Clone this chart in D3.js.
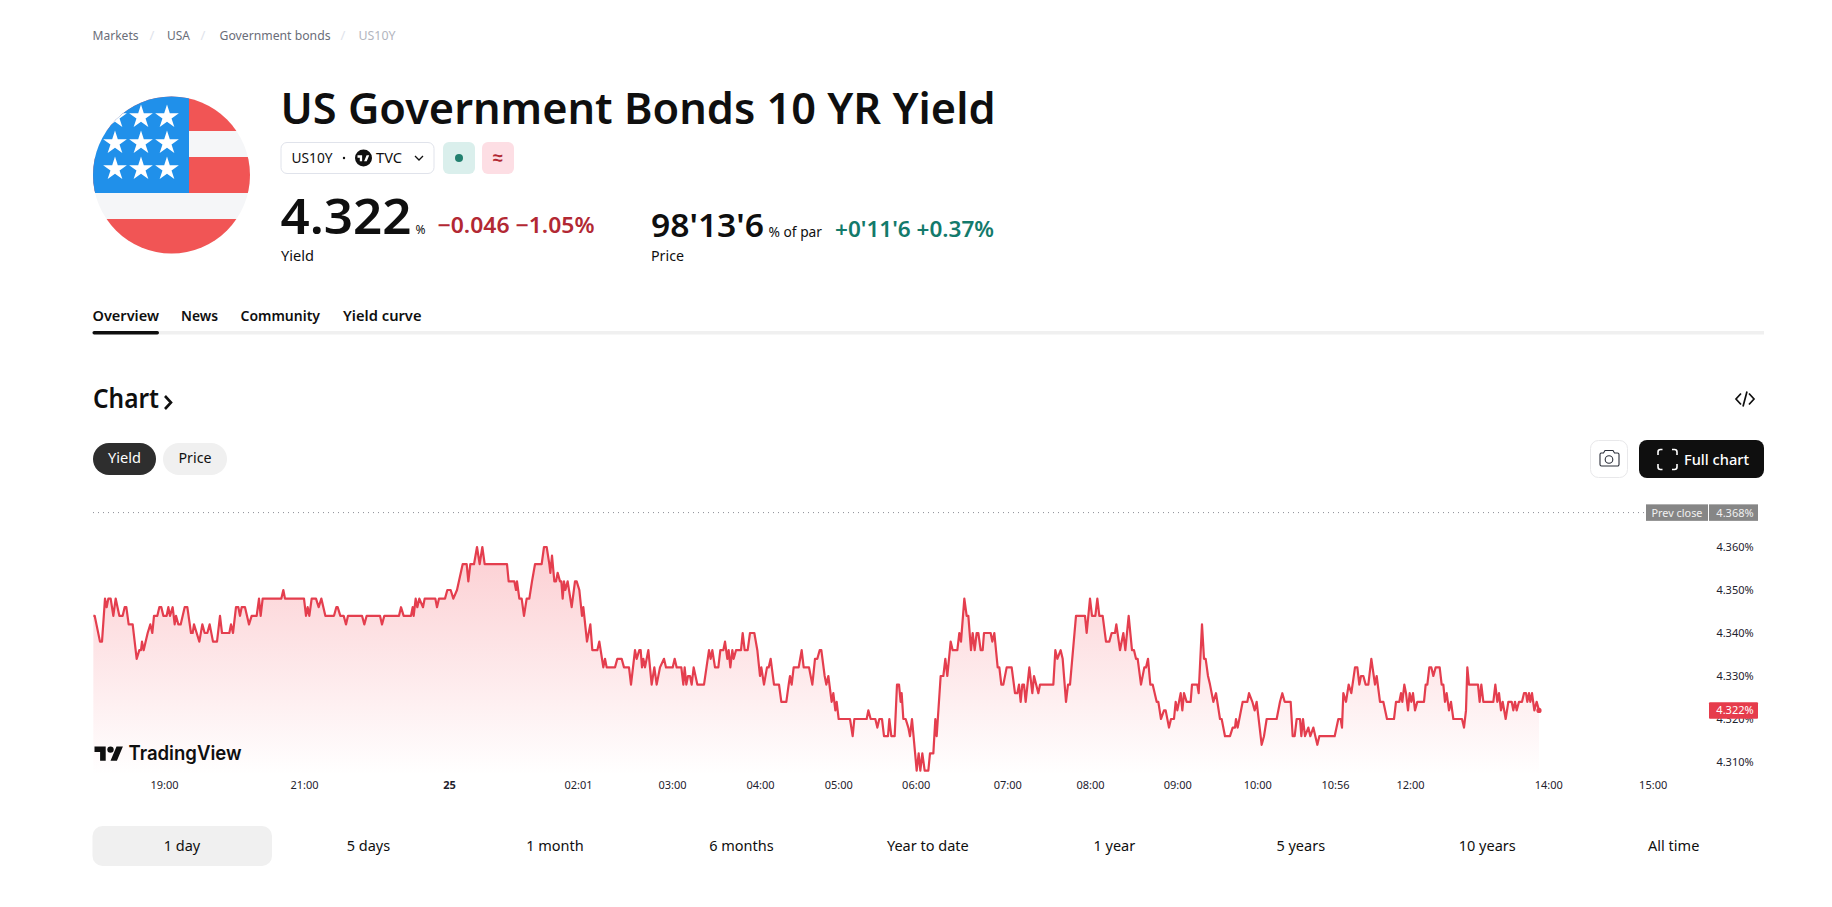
<!DOCTYPE html>
<html lang="en">
<head>
  <meta charset="UTF-8">
  <title>US Government Bonds 10 YR Yield</title>
  <script src="https://d3js.org/d3.v7.min.js"></script>
  <style>
    html, body { margin: 0; background: #fff; overflow: hidden; }
    svg { display: block; }
    text { font-family: "Noto Sans", sans-serif; }
  </style>
</head>
<body>
  <svg id="page" width="1832" height="907"></svg>

  <script>
    // Chart data: [bar on the axis, yield in %]
    const yieldSeries = [
      [40,4.344],[44,4.344],[60,4.338],[66,4.338],[75,4.348],[80,4.346],[85,4.348],[92,4.348],[100,4.344],[107,4.348],
      [118,4.344],[128,4.344],[134,4.346],[139,4.346],[146,4.342],[158,4.342],[170,4.334],[178,4.336],[183,4.336],[186,4.338],
      [191,4.336],[197,4.338],[203,4.340],[211,4.342],[217,4.340],[222,4.344],[232,4.344],[238,4.346],[244,4.346],[250,4.344],
      [260,4.344],[265,4.346],[270,4.344],[278,4.346],[284,4.342],[288,4.344],[295,4.342],[302,4.342],[314,4.346],[322,4.346],
      [333,4.340],[338,4.340],[342,4.342],[350,4.340],[358,4.338],[367,4.342],[374,4.340],[382,4.340],[389,4.342],[399,4.338],
      [411,4.338],[420,4.344],[426,4.340],[448,4.340],[453,4.342],[459,4.340],[468,4.346],[475,4.346],[480,4.344],[485,4.346],
      [495,4.346],[507,4.342],[515,4.344],[530,4.344],[537,4.348],[542,4.344],[548,4.348],[604,4.348],[610,4.350],[615,4.348],
      [672,4.348],[678,4.344],[683,4.346],[688,4.344],[695,4.348],[708,4.348],[716,4.346],[724,4.348],[736,4.344],[762,4.344],
      [769,4.346],[773,4.346],[781,4.344],[791,4.344],[798,4.342],[804,4.344],[846,4.344],[853,4.342],[860,4.344],[900,4.344],
      [906,4.342],[913,4.344],[957,4.344],[963,4.346],[971,4.344],[993,4.344],[998,4.346],[1001,4.344],[1007,4.348],[1012,4.346],
      [1018,4.348],[1029,4.346],[1034,4.348],[1066,4.348],[1071,4.346],[1077,4.348],[1095,4.348],[1102,4.350],[1112,4.350],[1120,4.348],
      [1131,4.350],[1148,4.356],[1160,4.356],[1165,4.352],[1171,4.356],[1182,4.356],[1191,4.360],[1199,4.356],[1207,4.360],[1214,4.356],
      [1281,4.356],[1286,4.352],[1303,4.352],[1308,4.350],[1311,4.352],[1318,4.348],[1325,4.348],[1332,4.344],[1340,4.348],[1348,4.348],
      [1356,4.352],[1365,4.356],[1385,4.356],[1392,4.360],[1400,4.360],[1408,4.356],[1411,4.354],[1416,4.358],[1423,4.352],[1428,4.352],
      [1433,4.354],[1440,4.352],[1444,4.352],[1448,4.348],[1452,4.352],[1456,4.350],[1463,4.352],[1475,4.346],[1485,4.352],[1490,4.352],
      [1498,4.350],[1506,4.344],[1510,4.346],[1521,4.338],[1531,4.342],[1537,4.336],[1552,4.336],[1558,4.338],[1570,4.332],[1575,4.334],
      [1580,4.332],[1605,4.332],[1612,4.334],[1625,4.334],[1632,4.332],[1647,4.332],[1653,4.328],[1665,4.336],[1670,4.334],[1678,4.336],
      [1682,4.336],[1686,4.332],[1690,4.334],[1695,4.332],[1705,4.336],[1715,4.328],[1723,4.332],[1730,4.328],[1740,4.332],[1752,4.334],
      [1758,4.332],[1778,4.332],[1784,4.334],[1790,4.332],[1804,4.332],[1810,4.328],[1814,4.332],[1819,4.328],[1824,4.330],[1830,4.330],
      [1835,4.328],[1841,4.332],[1852,4.328],[1872,4.328],[1887,4.336],[1892,4.334],[1897,4.336],[1905,4.332],[1915,4.332],[1921,4.336],
      [1930,4.336],[1935,4.338],[1942,4.334],[1946,4.336],[1951,4.332],[1957,4.336],[1961,4.334],[1968,4.336],[1983,4.336],[1988,4.340],
      [1994,4.336],[2003,4.336],[2010,4.340],[2023,4.340],[2032,4.336],[2040,4.330],[2044,4.332],[2052,4.328],[2061,4.332],[2066,4.332],
      [2072,4.334],[2082,4.328],[2097,4.328],[2104,4.324],[2119,4.324],[2126,4.328],[2130,4.330],[2135,4.328],[2141,4.332],[2156,4.332],
      [2165,4.336],[2171,4.332],[2187,4.332],[2197,4.328],[2205,4.334],[2212,4.334],[2219,4.336],[2224,4.336],[2234,4.330],[2239,4.328],
      [2245,4.330],[2255,4.324],[2260,4.326],[2266,4.322],[2270,4.324],[2276,4.320],[2310,4.320],[2318,4.316],[2323,4.320],[2360,4.320],
      [2365,4.322],[2372,4.320],[2386,4.320],[2392,4.318],[2398,4.320],[2406,4.320],[2412,4.316],[2424,4.316],[2428,4.320],[2434,4.316],
      [2444,4.316],[2451,4.328],[2457,4.328],[2462,4.324],[2465,4.326],[2470,4.320],[2477,4.320],[2485,4.318],[2490,4.316],[2496,4.320],
      [2510,4.308],[2516,4.312],[2521,4.308],[2527,4.312],[2534,4.308],[2545,4.308],[2550,4.312],[2560,4.312],[2566,4.320],[2570,4.316],
      [2582,4.330],[2590,4.330],[2596,4.334],[2602,4.330],[2612,4.338],[2618,4.336],[2632,4.336],[2638,4.340],[2643,4.338],[2653,4.348],
      [2660,4.344],[2665,4.344],[2673,4.336],[2678,4.340],[2684,4.336],[2690,4.340],[2695,4.340],[2702,4.336],[2708,4.336],[2712,4.340],
      [2732,4.340],[2737,4.338],[2743,4.340],[2753,4.332],[2758,4.332],[2764,4.328],[2770,4.328],[2780,4.332],[2795,4.332],[2805,4.326],
      [2812,4.326],[2817,4.328],[2822,4.324],[2827,4.328],[2832,4.328],[2837,4.324],[2848,4.332],[2857,4.326],[2862,4.330],[2875,4.326],
      [2880,4.328],[2920,4.328],[2926,4.336],[2932,4.334],[2942,4.336],[2948,4.334],[2958,4.324],[2964,4.328],[2970,4.328],[2988,4.344],
      [3015,4.344],[3020,4.340],[3030,4.348],[3036,4.344],[3046,4.344],[3052,4.348],[3058,4.344],[3068,4.344],[3078,4.338],[3088,4.338],
      [3095,4.340],[3105,4.340],[3109,4.342],[3120,4.336],[3130,4.340],[3136,4.336],[3146,4.344],[3156,4.336],[3162,4.336],[3168,4.334],
      [3173,4.334],[3183,4.328],[3193,4.332],[3198,4.332],[3204,4.334],[3211,4.328],[3218,4.328],[3230,4.324],[3235,4.324],[3243,4.320],
      [3252,4.322],[3257,4.322],[3267,4.318],[3273,4.320],[3282,4.320],[3287,4.324],[3292,4.322],[3302,4.326],[3307,4.322],[3312,4.326],
      [3320,4.324],[3332,4.324],[3336,4.328],[3352,4.328],[3356,4.326],[3366,4.342],[3372,4.334],[3377,4.334],[3384,4.330],[3390,4.328],
      [3400,4.324],[3408,4.326],[3420,4.320],[3425,4.320],[3435,4.316],[3450,4.316],[3458,4.318],[3465,4.318],[3468,4.320],[3473,4.318],
      [3488,4.324],[3502,4.324],[3507,4.326],[3517,4.324],[3524,4.322],[3530,4.324],[3545,4.314],[3552,4.316],[3560,4.320],[3590,4.320],
      [3600,4.324],[3607,4.326],[3614,4.324],[3632,4.324],[3638,4.316],[3644,4.316],[3650,4.320],[3660,4.320],[3664,4.316],[3669,4.320],
      [3675,4.316],[3685,4.318],[3691,4.316],[3700,4.318],[3706,4.316],[3712,4.314],[3718,4.316],[3764,4.316],[3775,4.320],[3782,4.320],
      [3786,4.318],[3790,4.326],[3798,4.324],[3806,4.328],[3814,4.326],[3825,4.332],[3832,4.332],[3838,4.328],[3843,4.330],[3850,4.330],
      [3857,4.328],[3865,4.328],[3874,4.334],[3885,4.328],[3890,4.330],[3900,4.324],[3910,4.324],[3921,4.320],[3942,4.320],[3948,4.324],
      [3958,4.324],[3963,4.326],[3967,4.324],[3973,4.328],[3978,4.326],[3984,4.322],[3989,4.326],[3994,4.324],[3999,4.326],[4005,4.322],
      [4012,4.324],[4032,4.324],[4037,4.328],[4042,4.328],[4048,4.332],[4054,4.332],[4060,4.330],[4067,4.332],[4079,4.332],[4085,4.328],
      [4090,4.328],[4095,4.324],[4100,4.326],[4107,4.322],[4113,4.324],[4120,4.320],[4146,4.320],[4152,4.318],[4158,4.322],[4162,4.332],
      [4167,4.328],[4194,4.328],[4199,4.324],[4204,4.328],[4210,4.324],[4240,4.324],[4246,4.328],[4252,4.324],[4257,4.326],[4263,4.322],
      [4268,4.324],[4277,4.320],[4285,4.324],[4295,4.324],[4300,4.322],[4305,4.324],[4310,4.322],[4317,4.324],[4326,4.324],[4332,4.326],
      [4338,4.326],[4342,4.324],[4347,4.326],[4351,4.324],[4356,4.326],[4363,4.322],[4370,4.324],[4377,4.322]
    ];
    const timeTickBars = [252, 672, 1107, 1494, 1776, 2040, 2275, 2507, 2782, 3030, 3292, 3532, 3765, 3990, 4405, 4718];
    const timeTickLabels = ['19:00', '21:00', '25', '02:01', '03:00', '04:00', '05:00', '06:00', '07:00', '08:00', '09:00', '10:00', '10:56', '12:00', '14:00', '15:00'];
    const yieldTicks = [4.31, 4.32, 4.33, 4.34, 4.35, 4.36];
    const prevClose = 4.368;
    const lastYield = 4.322;

    const breadcrumbs = ['Markets', 'USA', 'Government bonds', 'US10Y'];
    const tabs = ['Overview', 'News', 'Community', 'Yield curve'];
    const ranges = ['1 day', '5 days', '1 month', '6 months', 'Year to date', '1 year', '5 years', '10 years', 'All time'];

    const svg = d3.select('#page');
    const INK = '#0f0f0f';

    function label(parent, x, y, str, size, opts) {
      const o = opts || {};
      const t = parent.append('text')
        .attr('x', x).attr('y', y)
        .attr('font-size', size)
        .attr('font-weight', o.weight || 400)
        .attr('fill', o.fill || INK)
        .attr('text-anchor', o.anchor || 'start')
        .text(str);
      if (o.len) t.attr('textLength', o.len).attr('lengthAdjust', 'spacingAndGlyphs');
      return t;
    }

    // breadcrumb row
    const crumbX = [92.5, 167, 219.5, 358.5];
    const crumbW = [46, 23, 111, 37];
    breadcrumbs.forEach((c, i) => {
      label(svg, crumbX[i], 39.5, c, 13, { fill: i === 3 ? '#b2b5be' : '#6a6d78', len: crumbW[i] });
    });
    [152, 203, 343].forEach(x => label(svg, x, 39.5, '/', 13, { fill: '#e0e3eb', anchor: 'middle' }));

    // flag
    const defs = svg.append('defs');
    defs.append('clipPath').attr('id', 'flagClip')
      .append('circle').attr('cx', 171.5).attr('cy', 175).attr('r', 78.5);
    const flag = svg.append('g').attr('clip-path', 'url(#flagClip)');
    flag.append('rect').attr('x', 90).attr('y', 94).attr('width', 165).attr('height', 163).attr('fill', '#f5f6f8');
    [[94, 37], [157, 36], [219, 38]].forEach(s => {
      flag.append('rect').attr('x', 90).attr('y', s[0]).attr('width', 165).attr('height', s[1]).attr('fill', '#f15555');
    });
    flag.append('rect').attr('x', 90).attr('y', 94).attr('width', 99).attr('height', 99).attr('fill', '#2090ea');
    const star = d3.symbol().type(d3.symbolStar).size(175);
    [117, 143, 169].forEach(y => [115, 141, 167].forEach(x => {
      flag.append('path').attr('d', star()).attr('transform', `translate(${x},${y})`).attr('fill', '#fff');
    }));

    // title block
    label(svg, 280.5, 124, 'US Government Bonds 10 YR Yield', 43, { weight: 600, len: 715 });

    svg.append('rect').attr('x', 281).attr('y', 142.5).attr('width', 153).attr('height', 31).attr('rx', 6)
      .attr('fill', '#fff').attr('stroke', '#e0e3eb');
    label(svg, 291.5, 163, 'US10Y', 14, { len: 41 });
    svg.append('circle').attr('cx', 344).attr('cy', 158).attr('r', 1.2).attr('fill', INK);
    svg.append('circle').attr('cx', 363.5).attr('cy', 158).attr('r', 8.5).attr('fill', INK);
    svg.append('path').attr('d', 'M14 22H7V11H0V4h14v18zM28 22h-8l7.5-18h8L28 22z')
      .attr('transform', 'translate(357.5,154) scale(.33)').attr('fill', '#fff');
    label(svg, 376, 163, 'TVC', 14, { len: 26 });
    svg.append('path').attr('d', 'M415 156l4 4 4-4').attr('fill', 'none').attr('stroke', INK).attr('stroke-width', 1.3);

    svg.append('rect').attr('x', 443).attr('y', 142).attr('width', 32).attr('height', 32).attr('rx', 6).attr('fill', '#daefec');
    svg.append('circle').attr('cx', 459).attr('cy', 158).attr('r', 4).attr('fill', '#22806f');
    svg.append('rect').attr('x', 482).attr('y', 142).attr('width', 32).attr('height', 32).attr('rx', 6).attr('fill', '#fddee4');
    label(svg, 498, 163.5, '≈', 18, { fill: '#b22833', anchor: 'middle', weight: 600 });

    label(svg, 280.5, 234, '4.322', 48, { weight: 600, len: 131 });
    label(svg, 415.5, 234, '%', 13, { len: 10 });
    label(svg, 437.5, 233, '−0.046 −1.05%', 21.5, { weight: 600, fill: '#b22833', len: 157 });
    label(svg, 281, 261, 'Yield', 14, { len: 33 });

    label(svg, 651, 237, "98'13'6", 32, { weight: 600, len: 113 });
    label(svg, 768.5, 237, '% of par', 14, { len: 53.5 });
    label(svg, 835, 237, "+0'11'6 +0.37%", 21.5, { weight: 600, fill: '#137a6b', len: 159 });
    label(svg, 651, 261, 'Price', 14, { len: 33 });

    // tabs
    const tabX = [92.5, 181, 240.5, 343];
    const tabW = [66.5, 37, 79.5, 78.5];
    tabs.forEach((t, i) => label(svg, tabX[i], 321, t, 14.5, { weight: 600, len: tabW[i] }));
    svg.append('rect').attr('x', 92.5).attr('y', 331).attr('width', 1671.5).attr('height', 3.5).attr('fill', '#f0f0f0');
    svg.append('rect').attr('x', 92.5).attr('y', 331).attr('width', 66.5).attr('height', 3.5).attr('rx', 1.7).attr('fill', INK);

    // chart header and buttons
    label(svg, 93, 408, 'Chart', 27, { weight: 600, len: 66 });
    svg.append('path').attr('d', 'M165 396l6 6.5-6 6.5').attr('fill', 'none').attr('stroke', INK).attr('stroke-width', 2.6);
    svg.append('path').attr('d', 'M1741 393.5l-5 5.5 5 5.5M1749 393.5l5 5.5-5 5.5M1747 391.5l-4 15')
      .attr('fill', 'none').attr('stroke', INK).attr('stroke-width', 1.7);

    svg.append('rect').attr('x', 93).attr('y', 443).attr('width', 63).attr('height', 32).attr('rx', 16).attr('fill', '#2e2e2e');
    label(svg, 124.5, 462.5, 'Yield', 15, { fill: '#fff', anchor: 'middle', len: 33 });
    svg.append('rect').attr('x', 163).attr('y', 443).attr('width', 64).attr('height', 32).attr('rx', 16).attr('fill', '#f0f0f0');
    label(svg, 195, 462.5, 'Price', 15, { anchor: 'middle', len: 33 });

    svg.append('rect').attr('x', 1590.5).attr('y', 440.5).attr('width', 37).attr('height', 37).attr('rx', 8)
      .attr('fill', '#fff').attr('stroke', '#e8e8ea');
    svg.append('path').attr('d', 'M1600.5 453h3l1.5-2.5h8l1.5 2.5h3a1.5 1.5 0 0 1 1.5 1.5v10a1.5 1.5 0 0 1-1.5 1.5h-16a1.5 1.5 0 0 1-1.5-1.5v-10a1.5 1.5 0 0 1 1.5-1.5z')
      .attr('fill', 'none').attr('stroke', '#2a2e39').attr('stroke-width', 1.1);
    svg.append('circle').attr('cx', 1609).attr('cy', 459.5).attr('r', 3.8).attr('fill', 'none').attr('stroke', '#2a2e39').attr('stroke-width', 1.1);

    svg.append('rect').attr('x', 1639).attr('y', 440).attr('width', 125).attr('height', 38).attr('rx', 8).attr('fill', INK);
    svg.append('path').attr('d', 'M1658 455v-3a2.5 2.5 0 0 1 2.5-2.5h2M1672 449.5h2.5a2.5 2.5 0 0 1 2.5 2.5v3M1677 464v3a2.5 2.5 0 0 1-2.5 2.5H1672M1662.5 469.5h-2a2.5 2.5 0 0 1-2.5-2.5v-3')
      .attr('fill', 'none').attr('stroke', '#fff').attr('stroke-width', 1.6);
    label(svg, 1684, 464.5, 'Full chart', 15, { weight: 500, fill: '#fff', len: 65 });

    // scales: the axis runs on bars, not on clock time, so hours are not evenly wide
    const x = d3.scaleLinear().domain([0, 3000]).range([80, 1080]);
    const y = d3.scaleLinear().domain([4.31, 4.36]).range([762, 547]);
    const AREA_BOTTOM = 775;

    const grad = defs.append('linearGradient').attr('id', 'areaFill')
      .attr('gradientUnits', 'userSpaceOnUse')
      .attr('x1', 0).attr('x2', 0).attr('y1', y(4.36)).attr('y2', AREA_BOTTOM);
    grad.append('stop').attr('offset', 0).attr('stop-color', '#f23645').attr('stop-opacity', 0.24);
    grad.append('stop').attr('offset', 1).attr('stop-color', '#f23645').attr('stop-opacity', 0);

    const area = d3.area().x(d => x(d[0])).y0(AREA_BOTTOM).y1(d => y(d[1]));
    const line = d3.line().x(d => x(d[0])).y(d => y(d[1]));

    svg.append('path').datum(yieldSeries).attr('d', area).attr('fill', 'url(#areaFill)');
    svg.append('path').datum(yieldSeries).attr('d', line)
      .attr('fill', 'none').attr('stroke', '#e43e4e').attr('stroke-width', 2.2).attr('stroke-linejoin', 'round');

    const lastBar = yieldSeries[yieldSeries.length - 1][0];
    svg.append('circle').attr('cx', x(lastBar)).attr('cy', y(lastYield)).attr('r', 2.6).attr('fill', '#e43e4e');

    // prev close line
    svg.append('line').attr('x1', 93).attr('x2', 1646).attr('y1', y(prevClose)).attr('y2', y(prevClose))
      .attr('stroke', '#8a8d96').attr('stroke-width', 1).attr('stroke-dasharray', '1 4');

    // axes
    const xAxis = d3.axisBottom(x).tickValues(timeTickBars).tickSize(0).tickPadding(6)
      .tickFormat((d, i) => timeTickLabels[i]);
    const xG = svg.append('g').attr('transform', `translate(0,${AREA_BOTTOM})`).call(xAxis);
    xG.select('.domain').remove();
    xG.selectAll('text').attr('font-size', 11).attr('font-family', '"Noto Sans", sans-serif').attr('fill', '#1e222d')
      .attr('font-weight', d => d === 1107 ? 700 : 400);

    const yAxis = d3.axisRight(y).tickValues(yieldTicks).tickSize(0).tickPadding(0)
      .tickFormat(d => d.toFixed(3) + '%');
    const yG = svg.append('g').attr('transform', 'translate(1735,0)').call(yAxis);
    yG.select('.domain').remove();
    yG.selectAll('text').attr('font-size', 11).attr('font-family', '"Noto Sans", sans-serif').attr('fill', '#1e222d')
      .attr('text-anchor', 'middle');

    // price tags on the right
    const tagH = 16.5;
    svg.append('rect').attr('x', 1646).attr('y', y(prevClose) - tagH / 2).attr('width', 62).attr('height', tagH).attr('fill', '#868686');
    svg.append('rect').attr('x', 1709).attr('y', y(prevClose) - tagH / 2).attr('width', 49).attr('height', tagH).attr('fill', '#868686');
    label(svg, 1677, y(prevClose) + 4, 'Prev close', 11, { fill: '#f0f0f0', anchor: 'middle', len: 51 });
    label(svg, 1735, y(prevClose) + 4, prevClose.toFixed(3) + '%', 11, { fill: '#f0f0f0', anchor: 'middle' });
    svg.append('rect').attr('x', 1709).attr('y', y(lastYield) - tagH / 2).attr('width', 49).attr('height', tagH).attr('rx', 1).attr('fill', '#e63c4c');
    label(svg, 1735, y(lastYield) + 4, lastYield.toFixed(3) + '%', 11, { fill: '#fff', anchor: 'middle' });

    // TradingView mark
    svg.append('path').attr('d', 'M14 22H7V11H0V4h14v18zM28 22h-8l7.5-18h8L28 22z')
      .attr('transform', 'translate(94.5,743.2) scale(.8)').attr('fill', INK);
    svg.append('circle').attr('cx', 110.5).attr('cy', 749.6).attr('r', 3.2).attr('fill', INK);
    label(svg, 128.5, 760, 'TradingView', 19.5, { weight: 600, len: 113 }).style('font-family', 'Inter, sans-serif');

    // range selector
    svg.append('rect').attr('x', 92.5).attr('y', 826).attr('width', 179.5).attr('height', 40).attr('rx', 10).attr('fill', '#f0f0f0');
    const rangeBand = d3.scalePoint().domain(ranges).range([182, 1673.7]);
    ranges.forEach(r => label(svg, rangeBand(r), 850.5, r, 14.5, { anchor: 'middle' }));
  </script>
</body>
</html>
